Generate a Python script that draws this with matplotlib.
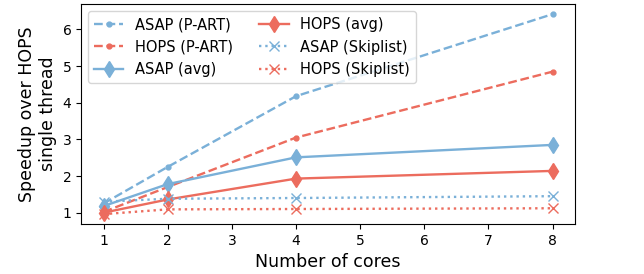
import matplotlib
matplotlib.use("Agg")
import matplotlib.pyplot as plt

cores = [1, 2, 4, 8]

asap_part = [1.25, 2.25, 4.18, 6.42]
hops_part = [1.02, 1.70, 3.05, 4.85]
asap_avg = [1.18, 1.78, 2.51, 2.85]
hops_avg = [1.00, 1.36, 1.93, 2.14]
asap_skip = [1.30, 1.38, 1.40, 1.45]
hops_skip = [0.96, 1.09, 1.10, 1.12]

blue = "#7ab0d8"
red = "#ec6c5e"

fig, ax = plt.subplots(figsize=(6.44, 2.74), dpi=100)

ax.plot(cores, asap_part, color=blue, linestyle="--", marker=".", markersize=7, linewidth=1.7, label="ASAP (P-ART)")
ax.plot(cores, hops_part, color=red, linestyle="--", marker=".", markersize=7, linewidth=1.7, label="HOPS (P-ART)")
ax.plot(cores, asap_avg, color=blue, linestyle="-", marker="d", markersize=8, linewidth=1.7, label="ASAP (avg)")
ax.plot(cores, hops_avg, color=red, linestyle="-", marker="d", markersize=8, linewidth=1.7, label="HOPS (avg)")
ax.plot(cores, asap_skip, color=blue, linestyle=":", marker="x", markersize=7, linewidth=1.7, label="ASAP (Skiplist)")
ax.plot(cores, hops_skip, color=red, linestyle=":", marker="x", markersize=7, linewidth=1.7, label="HOPS (Skiplist)")

ax.set_xlabel("Number of cores", fontsize=12.5)
ax.set_ylabel("Speedup over HOPS\nsingle thread", fontsize=12.5)
ax.set_yticks([1, 2, 3, 4, 5, 6])
ax.tick_params(labelsize=10)
ax.legend(ncol=2, loc="upper left", fontsize=10.5, columnspacing=1.8)

fig.subplots_adjust(left=0.126, right=0.893, top=0.985, bottom=0.182)
fig.savefig("out.png", dpi=100)
